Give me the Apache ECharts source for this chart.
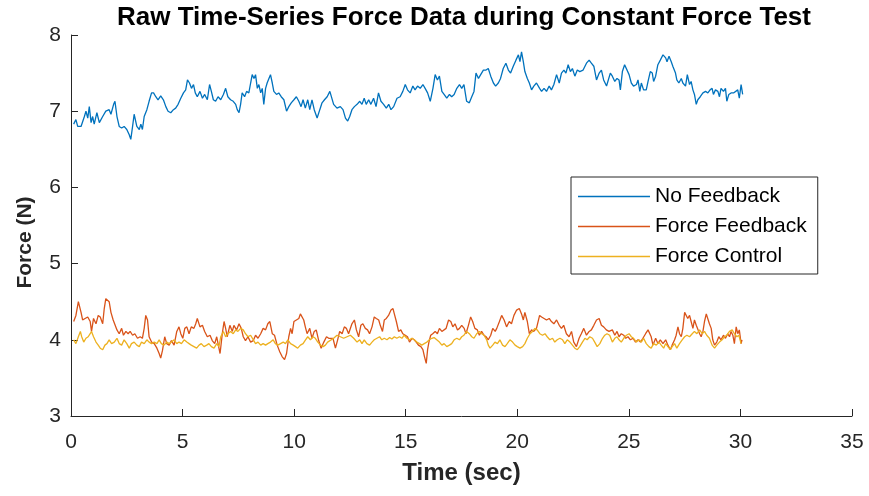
<!DOCTYPE html>
<html>
<head>
<meta charset="utf-8">
<script src="https://cdn.jsdelivr.net/npm/echarts@6/dist/echarts.min.js"></script>
<style>
  html, body { margin: 0; padding: 0; background: #fff; }
  #chart { width: 869px; height: 496px; }
</style>
</head>
<body>
<div id="chart"></div>
<script>
// ---- data ----
const noFbT = [0.12,0.22,0.30,0.45,0.60,0.67,0.75,0.82,0.90,0.97,1.04,1.16,1.27,1.42,1.56,1.71,1.79,1.91,1.97,2.06,2.16,2.27,2.38,2.50,2.61,2.68,2.76,2.83,2.95,3.06,3.13,3.20,3.28,3.40,3.50,3.61,3.70,3.80,3.90,4.02,4.14,4.25,4.35,4.47,4.59,4.69,4.80,4.92,5.04,5.14,5.22,5.31,5.40,5.49,5.57,5.66,5.78,5.89,5.99,6.11,6.21,6.29,6.38,6.48,6.59,6.71,6.83,6.93,7.03,7.15,7.27,7.38,7.45,7.53,7.60,7.67,7.78,7.87,7.97,8.05,8.12,8.20,8.27,8.35,8.42,8.50,8.57,8.64,8.72,8.79,8.87,8.94,9.02,9.09,9.21,9.31,9.42,9.54,9.66,9.76,9.87,9.99,10.10,10.21,10.31,10.40,10.50,10.61,10.70,10.80,10.90,11.03,11.15,11.25,11.36,11.48,11.60,11.77,11.92,12.07,12.19,12.30,12.40,12.49,12.59,12.70,12.82,12.94,13.04,13.14,13.23,13.34,13.44,13.56,13.67,13.78,13.89,14.01,14.13,14.24,14.34,14.46,14.61,14.75,14.87,14.98,15.08,15.20,15.32,15.42,15.53,15.65,15.77,15.87,15.98,16.10,16.22,16.32,16.42,16.51,16.62,16.72,16.84,16.96,17.06,17.17,17.29,17.41,17.51,17.61,17.73,17.85,17.96,18.06,18.15,18.26,18.36,18.48,18.60,18.70,18.81,18.93,19.03,19.15,19.25,19.37,19.49,19.60,19.70,19.82,19.94,20.05,20.12,20.19,20.27,20.34,20.45,20.54,20.64,20.74,20.86,21.00,21.09,21.20,21.31,21.43,21.53,21.64,21.76,21.88,21.98,22.09,22.18,22.28,22.38,22.47,22.58,22.69,22.80,22.95,23.10,23.22,23.32,23.43,23.55,23.67,23.77,23.87,24.00,24.17,24.26,24.37,24.47,24.56,24.62,24.71,24.81,24.89,25.01,25.11,25.21,25.34,25.41,25.49,25.56,25.66,25.78,25.86,25.96,26.05,26.11,26.20,26.30,26.41,26.53,26.65,26.71,26.80,26.90,26.97,27.09,27.15,27.24,27.35,27.42,27.54,27.62,27.72,27.79,27.87,27.94,28.02,28.09,28.20,28.32,28.44,28.54,28.64,28.73,28.79,28.88,28.99,29.06,29.13,29.24,29.33,29.39,29.48,29.58,29.69,29.77,29.88,29.95,30.03,30.10];
const noFbV = [6.83,6.89,6.80,6.80,6.93,7.00,6.91,7.06,6.85,6.93,6.83,6.98,6.85,6.93,7.00,7.02,6.96,7.09,7.13,6.93,6.80,6.78,6.80,6.76,6.69,6.63,6.80,6.96,6.80,6.76,6.83,6.76,6.93,7.02,7.13,7.24,7.24,7.19,7.15,7.20,7.15,7.06,7.00,6.98,7.02,7.04,7.09,7.17,7.24,7.28,7.41,7.37,7.30,7.35,7.24,7.19,7.26,7.17,7.22,7.15,7.35,7.26,7.15,7.13,7.19,7.15,7.22,7.30,7.19,7.15,7.13,7.09,7.02,6.98,7.09,7.24,7.19,7.26,7.24,7.37,7.48,7.43,7.48,7.30,7.35,7.24,7.30,7.09,7.30,7.37,7.43,7.48,7.37,7.26,7.22,7.24,7.19,7.15,7.00,7.06,7.11,7.15,7.19,7.13,7.06,7.15,7.04,7.15,7.02,7.15,7.02,6.91,7.02,7.11,7.15,7.19,7.26,7.09,7.04,7.06,7.02,6.91,6.87,6.93,7.02,7.06,7.09,7.13,7.09,7.17,7.09,7.15,7.09,7.17,7.06,7.24,7.13,7.09,7.04,7.09,7.02,7.06,7.17,7.19,7.26,7.35,7.28,7.24,7.33,7.28,7.33,7.30,7.35,7.30,7.24,7.13,7.30,7.48,7.41,7.46,7.26,7.22,7.17,7.22,7.19,7.22,7.30,7.35,7.30,7.35,7.13,7.11,7.19,7.26,7.50,7.43,7.48,7.54,7.54,7.56,7.46,7.37,7.33,7.37,7.43,7.56,7.63,7.54,7.50,7.59,7.67,7.74,7.65,7.78,7.65,7.52,7.43,7.37,7.28,7.33,7.37,7.30,7.26,7.30,7.26,7.33,7.28,7.35,7.48,7.37,7.50,7.54,7.50,7.61,7.52,7.56,7.46,7.54,7.52,7.54,7.63,7.67,7.63,7.59,7.41,7.50,7.54,7.41,7.33,7.50,7.46,7.39,7.43,7.41,7.28,7.52,7.61,7.59,7.48,7.37,7.33,7.35,7.41,7.26,7.37,7.28,7.28,7.39,7.52,7.50,7.39,7.46,7.61,7.67,7.74,7.70,7.65,7.72,7.65,7.59,7.50,7.41,7.37,7.43,7.37,7.33,7.48,7.35,7.39,7.28,7.22,7.09,7.15,7.19,7.24,7.26,7.24,7.28,7.30,7.22,7.28,7.26,7.19,7.30,7.26,7.30,7.13,7.22,7.24,7.24,7.26,7.28,7.17,7.35,7.22];

const forceFbT = [0.12,0.22,0.33,0.39,0.45,0.52,0.63,0.75,0.86,0.92,1.01,1.12,1.22,1.31,1.42,1.49,1.56,1.64,1.71,1.79,1.89,1.97,2.06,2.16,2.27,2.35,2.46,2.56,2.65,2.76,2.86,2.98,3.10,3.20,3.28,3.35,3.43,3.50,3.61,3.73,3.85,3.95,4.02,4.10,4.20,4.29,4.40,4.50,4.62,4.74,4.84,4.92,5.01,5.10,5.19,5.29,5.39,5.51,5.59,5.66,5.78,5.89,5.99,6.11,6.23,6.33,6.44,6.53,6.59,6.68,6.78,6.86,6.93,7.00,7.12,7.23,7.30,7.42,7.53,7.63,7.72,7.82,7.93,8.05,8.17,8.27,8.38,8.50,8.61,8.72,8.82,8.91,9.02,9.12,9.24,9.36,9.46,9.57,9.66,9.76,9.84,9.91,9.99,10.10,10.21,10.28,10.36,10.43,10.50,10.58,10.70,10.80,10.90,10.99,11.10,11.21,11.33,11.45,11.55,11.74,11.85,11.95,12.04,12.15,12.25,12.34,12.44,12.52,12.59,12.70,12.79,12.89,12.99,13.08,13.19,13.29,13.38,13.49,13.59,13.68,13.79,13.86,13.96,14.04,14.13,14.23,14.34,14.43,14.49,14.58,14.68,14.78,14.87,14.98,15.08,15.17,15.28,15.38,15.47,15.57,15.68,15.77,15.84,15.92,15.98,16.04,16.12,16.21,16.32,16.42,16.51,16.62,16.69,16.81,16.92,17.02,17.11,17.21,17.32,17.41,17.51,17.62,17.70,17.81,17.91,18.00,18.10,18.21,18.30,18.40,18.51,18.60,18.70,18.81,18.90,19.01,19.08,19.20,19.30,19.41,19.52,19.64,19.74,19.85,19.97,20.09,20.19,20.27,20.34,20.45,20.54,20.64,20.74,20.86,21.00,21.09,21.20,21.31,21.43,21.53,21.64,21.76,21.88,21.98,22.08,22.20,22.32,22.43,22.53,22.65,22.77,22.87,22.98,23.10,23.22,23.32,23.43,23.55,23.67,23.77,23.87,23.99,24.11,24.26,24.37,24.47,24.56,24.66,24.77,24.86,24.96,25.07,25.19,25.30,25.41,25.52,25.63,25.75,25.86,25.93,26.00,26.08,26.20,26.30,26.41,26.53,26.65,26.75,26.86,26.94,27.05,27.12,27.20,27.27,27.35,27.42,27.50,27.57,27.64,27.72,27.79,27.87,27.94,28.02,28.09,28.17,28.24,28.32,28.39,28.47,28.54,28.61,28.69,28.76,28.84,28.94,29.03,29.13,29.24,29.33,29.43,29.51,29.58,29.66,29.73,29.81,29.88,29.95,30.03,30.07];
const forceFbV = [4.24,4.32,4.50,4.52,4.36,4.26,4.28,4.30,4.24,4.11,4.28,4.21,4.32,4.30,4.21,4.41,4.54,4.56,4.50,4.36,4.26,4.24,4.13,4.08,4.15,4.06,4.11,4.08,4.11,4.06,4.08,4.02,4.04,4.02,4.15,4.32,4.26,4.04,3.97,3.95,3.89,3.82,3.76,3.86,4.04,3.95,3.93,3.99,3.93,4.11,4.17,4.08,4.02,4.15,4.17,4.08,4.17,4.15,4.21,4.28,4.17,4.19,4.11,4.04,4.06,3.99,3.95,4.04,3.95,3.82,4.08,4.24,4.15,4.04,4.19,4.11,4.19,4.13,4.21,4.15,4.04,3.99,4.04,3.97,3.99,4.06,4.02,4.08,4.15,4.13,4.21,4.24,4.08,4.06,3.93,3.84,3.78,3.74,3.82,4.04,4.15,4.08,4.24,4.26,4.28,4.34,4.32,4.26,4.17,4.08,4.15,4.02,4.11,4.13,3.99,3.89,3.97,4.04,4.02,4.02,3.89,4.00,4.11,4.08,4.17,4.15,4.08,4.08,4.21,4.26,4.13,4.04,4.19,4.21,4.15,4.13,4.08,4.17,4.30,4.28,4.26,4.19,4.11,4.26,4.28,4.32,4.39,4.41,4.34,4.24,4.11,4.13,4.08,4.06,4.04,3.97,4.02,4.00,3.97,3.93,3.91,3.87,3.78,3.69,3.87,3.97,4.06,4.08,4.11,4.08,4.15,4.11,4.13,4.15,4.26,4.24,4.17,4.21,4.13,4.15,4.19,4.15,4.08,4.19,4.30,4.24,4.15,4.13,4.06,4.11,4.06,4.04,4.00,4.06,4.15,4.11,4.15,4.24,4.32,4.26,4.17,4.24,4.21,4.32,4.39,4.41,4.34,4.26,4.36,4.24,4.08,4.13,4.11,4.15,4.32,4.30,4.28,4.26,4.28,4.24,4.21,4.26,4.19,4.15,4.19,4.08,4.04,4.11,3.97,3.91,4.02,4.08,4.15,4.06,4.11,4.13,4.19,4.26,4.28,4.19,4.17,4.13,4.11,4.13,4.06,4.11,4.04,4.08,4.06,4.02,4.04,4.00,4.02,3.97,4.00,3.97,4.02,4.08,4.13,4.15,4.04,3.93,4.02,3.95,4.00,3.95,4.00,3.93,3.87,3.93,4.00,4.06,4.17,4.08,4.04,4.15,4.36,4.34,4.28,4.32,4.24,4.15,4.26,4.19,4.17,4.08,4.04,4.11,4.24,4.34,4.32,4.21,4.15,4.00,3.93,3.97,4.04,4.00,4.06,4.02,4.08,4.04,4.11,4.06,3.95,4.17,4.08,4.13,3.95,4.00];

const forceCtlT = [0.12,0.22,0.33,0.42,0.48,0.57,0.67,0.77,0.86,0.92,1.01,1.12,1.22,1.31,1.42,1.52,1.61,1.71,1.82,1.94,2.06,2.16,2.27,2.38,2.50,2.61,2.71,2.83,2.95,3.06,3.16,3.28,3.40,3.50,3.61,3.73,3.85,3.95,4.05,4.17,4.29,4.40,4.50,4.62,4.74,4.84,4.95,5.07,5.19,5.29,5.39,5.51,5.63,5.74,5.84,5.96,6.08,6.18,6.29,6.41,6.53,6.63,6.71,6.83,6.93,7.03,7.15,7.27,7.38,7.48,7.60,7.72,7.82,7.93,8.05,8.17,8.27,8.38,8.50,8.61,8.72,8.82,8.94,9.06,9.16,9.27,9.39,9.51,9.61,9.72,9.84,9.96,10.06,10.16,10.28,10.40,10.51,10.61,10.73,10.85,10.95,11.06,11.18,11.30,11.40,11.50,11.77,11.92,12.07,12.22,12.37,12.52,12.67,12.82,12.94,13.04,13.14,13.26,13.38,13.49,13.59,13.71,13.83,13.93,14.04,14.16,14.28,14.38,14.49,14.60,14.72,14.83,14.93,15.05,15.17,15.28,15.38,15.50,15.62,15.72,15.83,15.95,16.06,16.17,16.27,16.39,16.51,16.62,16.72,16.84,16.96,17.06,17.17,17.29,17.41,17.51,17.61,17.73,17.85,17.96,18.06,18.18,18.30,18.41,18.51,18.63,18.70,18.78,18.90,19.00,19.11,19.22,19.34,19.45,19.55,19.67,19.79,19.90,20.00,20.12,20.24,20.34,20.45,20.57,20.68,20.79,20.89,21.01,21.13,21.24,21.34,21.46,21.58,21.68,21.79,21.91,22.03,22.13,22.24,22.36,22.47,22.58,22.69,22.80,22.92,23.03,23.13,23.25,23.37,23.47,23.58,23.70,23.82,23.92,24.02,24.14,24.26,24.37,24.47,24.56,24.66,24.77,24.89,25.01,25.11,25.21,25.34,25.45,25.56,25.66,25.78,25.90,26.00,26.11,26.23,26.35,26.45,26.56,26.65,26.75,26.86,26.94,27.05,27.15,27.27,27.39,27.50,27.60,27.72,27.84,27.94,28.05,28.17,28.29,28.39,28.49,28.61,28.73,28.84,28.94,29.06,29.18,29.28,29.39,29.51,29.63,29.73,29.84,29.93,30.03];
const forceCtlV = [4.00,3.95,4.04,4.11,4.04,3.97,4.02,4.04,4.08,4.11,4.04,3.97,3.93,3.89,3.87,3.93,3.95,4.00,3.95,3.97,4.02,3.95,3.93,4.00,3.95,3.89,3.95,3.97,3.93,3.91,3.97,3.95,4.00,3.97,3.95,3.97,3.95,4.00,3.95,3.93,3.97,3.95,3.97,4.00,3.95,3.97,3.95,4.00,3.97,3.95,3.93,3.91,3.89,3.93,3.95,3.91,3.93,3.95,3.91,3.89,3.95,3.91,4.04,4.11,4.04,4.08,4.11,4.08,4.13,4.11,4.15,4.13,4.08,4.04,4.06,4.00,3.95,3.97,3.93,3.95,3.93,3.95,3.97,4.00,3.95,3.93,3.95,3.97,3.95,4.00,3.95,3.93,3.91,3.89,3.93,3.95,4.00,4.04,4.00,4.04,4.02,3.97,3.93,3.91,3.93,3.97,4.02,4.06,4.04,4.02,4.04,4.06,4.02,3.97,4.00,3.95,4.00,3.95,3.93,3.97,4.00,4.02,4.04,4.00,4.02,4.00,4.03,4.01,4.04,4.02,4.04,4.02,4.06,4.02,4.00,4.02,4.00,3.97,3.95,3.93,3.95,3.97,4.00,4.02,4.03,4.00,3.97,3.93,3.95,3.91,3.93,3.95,4.00,4.02,4.00,4.04,4.06,4.11,4.08,4.04,4.02,4.08,4.11,4.08,4.06,4.00,3.93,3.89,3.93,3.97,3.95,4.00,3.93,3.91,3.95,4.00,3.97,3.93,3.91,3.89,3.91,3.95,4.02,4.08,4.11,4.15,4.13,4.08,4.06,4.08,4.04,4.00,4.02,3.97,4.00,4.02,4.00,3.95,4.00,3.97,3.93,3.89,3.87,3.91,3.97,4.02,4.00,4.04,4.02,3.97,3.91,3.95,4.02,4.06,4.08,4.06,3.97,4.02,4.04,4.00,3.97,4.02,4.06,4.08,4.04,4.02,3.97,4.00,3.97,4.02,3.95,3.91,3.89,3.95,3.93,3.97,3.93,3.89,3.95,3.91,3.87,3.91,3.95,3.89,3.95,4.00,4.04,4.06,4.04,4.08,4.11,4.08,4.13,4.08,4.11,4.06,4.02,3.93,3.89,3.93,3.97,4.00,4.04,4.06,4.11,4.13,4.08,4.04,4.06,3.95];

const xTicks = [0, 35, 5];   // min, max, step (sec)
const yTicks = [3, 8, 1];    // min, max, step (N)
const seriesNames = ['No Feedback', 'Force Feedback', 'Force Control'];
const seriesColors = ['#0072BD', '#D95319', '#EDB120'];

/* ---------- chart ---------- */
const pairs = (t, v) => t.map((x, i) => [x, v[i]]);
const FONT = '"Liberation Sans", Arial, sans-serif';
const INK = '#262626';

const chart = echarts.init(document.getElementById('chart'), null, { renderer: 'canvas' });

const axisCommon = {
  type: 'value',
  axisLine: { show: true, onZero: false, lineStyle: { color: INK, width: 1 } },
  axisTick: { show: true, inside: true, length: 7, lineStyle: { color: INK } },
  splitLine: { show: false },
  nameLocation: 'middle',
};

chart.setOption({
  animation: false,
  backgroundColor: '#fff',
  color: seriesColors,
  title: {
    text: 'Raw Time-Series Force Data during Constant Force Test',
    left: 459,
    top: 0,
    textAlign: 'center',
    textStyle: { fontFamily: FONT, fontSize: 26, fontWeight: 'bold', color: '#000' }
  },
  grid: { left: 71, right: 17, top: 35, bottom: 80 },
  legend: {
    orient: 'vertical',
    left: 571,
    top: 177,
    padding: [9, 11, 7, 7],
    icon: 'rect',
    itemWidth: 72,
    itemHeight: 1.5,
    itemGap: 9,
    backgroundColor: '#fff',
    borderColor: INK,
    borderWidth: 1,
    borderRadius: 0,
    textStyle: { fontFamily: FONT, fontSize: 21, color: '#000', lineHeight: 21 },
    data: seriesNames
  },
  xAxis: Object.assign({}, axisCommon, {
    min: xTicks[0], max: xTicks[1], interval: xTicks[2],
    name: 'Time (sec)',
    nameGap: 45,
    nameTextStyle: { fontFamily: FONT, fontSize: 24, fontWeight: 'bold', color: INK },
    axisLabel: { fontFamily: FONT, fontSize: 21, color: INK, margin: 16 }
  }),
  yAxis: Object.assign({}, axisCommon, {
    min: yTicks[0], max: yTicks[1], interval: yTicks[2],
    name: 'Force (N)',
    nameGap: 35,
    nameTextStyle: { fontFamily: FONT, fontSize: 21, fontWeight: 'bold', color: INK, padding: [0, 34, 0, 0] },
    axisLabel: { fontFamily: FONT, fontSize: 21, color: INK, margin: 10 }
  }),
  series: [
    { name: seriesNames[0], type: 'line', symbol: 'none', data: pairs(noFbT, noFbV), lineStyle: { width: 1.3 } },
    { name: seriesNames[1], type: 'line', symbol: 'none', data: pairs(forceFbT, forceFbV), lineStyle: { width: 1.3 } },
    { name: seriesNames[2], type: 'line', symbol: 'none', data: pairs(forceCtlT, forceCtlV), lineStyle: { width: 1.3 } }
  ]
});

window.onresize = function () {
  chart.resize();
};
</script>
</body>
</html>
